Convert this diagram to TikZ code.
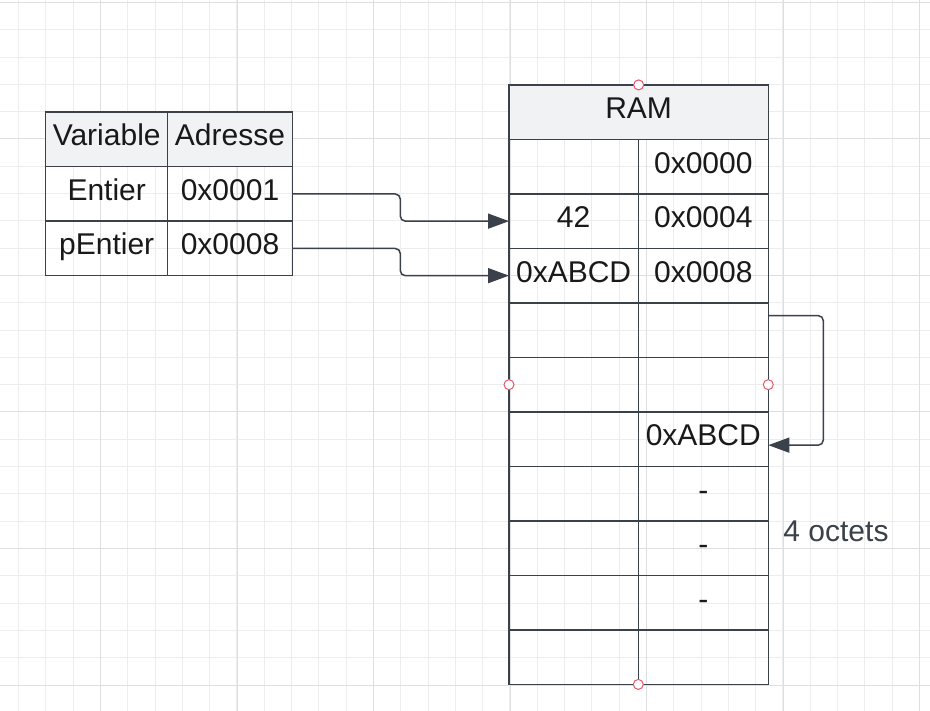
\documentclass[tikz,border=0pt]{standalone}
\usepackage{fontspec}
\setmainfont{Liberation Sans}
\usetikzlibrary{positioning,arrows.meta}

\definecolor{trait}{HTML}{3A414A}
\definecolor{entete}{HTML}{F1F2F4}
\definecolor{grille}{HTML}{EDEDED}
\definecolor{grillemaj}{HTML}{DFDFDF}
\definecolor{poignee}{HTML}{E3596B}

\tikzset{
  cell/.style={draw=trait,line width=1.5pt,outer sep=0pt,inner sep=0pt,minimum height=54.5pt,
    text height=21pt,text depth=8pt,font=\fontsize{30}{36}\selectfont,text=black!90},
  head/.style={cell,fill=entete},
  valcell/.style={cell,minimum width=129.3pt},
  adrcell/.style={cell,minimum width=130pt},
  link/.style={draw=trait,line width=1.5pt,rounded corners=5pt,-{Triangle[length=21pt,width=15pt]}},
  handle/.style={circle,draw=poignee,fill=white,line width=1pt,inner sep=0pt,minimum size=10pt},
}

\begin{document}
\begin{tikzpicture}[on grid,node distance=54.5pt]

  \useasboundingbox (0pt,0pt) rectangle (930pt,-711pt);
  % fond quadrille
  \begin{scope}
    \clip (0pt,0pt) rectangle (930pt,-711pt);
    \fill[white] (0pt,0pt) rectangle (930pt,-711pt);
    \draw[grille,line width=1pt,shift={(18.5pt,-2.5pt)},step=27.3pt] (-27.3pt,27.3pt) grid (927.3pt,-736pt);
    \draw[grillemaj,line width=1pt,shift={(100.5pt,-2.5pt)},step=136.5pt] (-136.5pt,136.5pt) grid (836pt,-720pt);
  \end{scope}

  % table des variables
  \node[head,minimum width=122pt]     (var)     at (106.7pt,-139.5pt) {Variable};
  \node[head,minimum width=124.6pt]   (adr)     [right=123.3pt of var] {Adresse};
  \node[cell,minimum width=122pt]     (ent)     [below=of var]    {Entier};
  \node[cell,minimum width=124.6pt]   (entadr)  [below=of adr]    {0x0001};
  \node[cell,minimum width=122pt]     (pent)    [below=of ent]    {pEntier};
  \node[cell,minimum width=124.6pt]   (pentadr) [below=of entadr] {0x0008};

  % memoire
  \node[head,minimum width=259.3pt]   (ram)     at (638.65pt,-112.15pt) {RAM};
  \node[valcell]  (v1)  [below left=54.5pt and 65pt of ram] {};
  \node[adrcell]  (a1)  [right=129.65pt of v1] {0x0000};
  \node[valcell]  (v2)  [below=of v1]  {42};
  \node[adrcell]  (a2)  [below=of a1]  {0x0004};
  \node[valcell]  (v3)  [below=of v2]  {0xABCD};
  \node[adrcell]  (a3)  [below=of a2]  {0x0008};
  \node[valcell]  (v4)  [below=of v3]  {};
  \node[adrcell]  (a4)  [below=of a3]  {};
  \node[valcell]  (v5)  [below=of v4]  {};
  \node[adrcell]  (a5)  [below=of a4]  {};
  \node[valcell]  (v6)  [below=of v5]  {};
  \node[adrcell]  (a6)  [below=of a5]  {0xABCD};
  \node[valcell]  (v7)  [below=of v6]  {};
  \node[adrcell]  (a7)  [below=of a6]  {-};
  \node[valcell]  (v8)  [below=of v7]  {};
  \node[adrcell]  (a8)  [below=of a7]  {-};
  \node[valcell]  (v9)  [below=of v8]  {};
  \node[adrcell]  (a9)  [below=of a8]  {-};
  \node[valcell]  (v10) [below=of v9]  {};
  \node[adrcell]  (a10) [below=of a9]  {};

  \node[font=\fontsize{30}{36}\selectfont,text=trait] (octets) at (836pt,-531.2pt) {4 octets};

  \path[link] (entadr.east) -- ++(108pt,0) |- (v2.west);
  \path[link] (pentadr.east) -- ++(108pt,0) |- (v3.west);
  \path[link] ([yshift=14.5pt]a4.east) -- ++(55pt,0) |- ([yshift=-6pt]a6.east);

  % poignees
  \node[handle] (h1) at (ram.north) {};
  \node[handle] (h2) at (v5.west) {};
  \node[handle] (h3) at (a5.east) {};
  \node[handle] (h4) at (v10.south east) {};

\end{tikzpicture}
\end{document}
